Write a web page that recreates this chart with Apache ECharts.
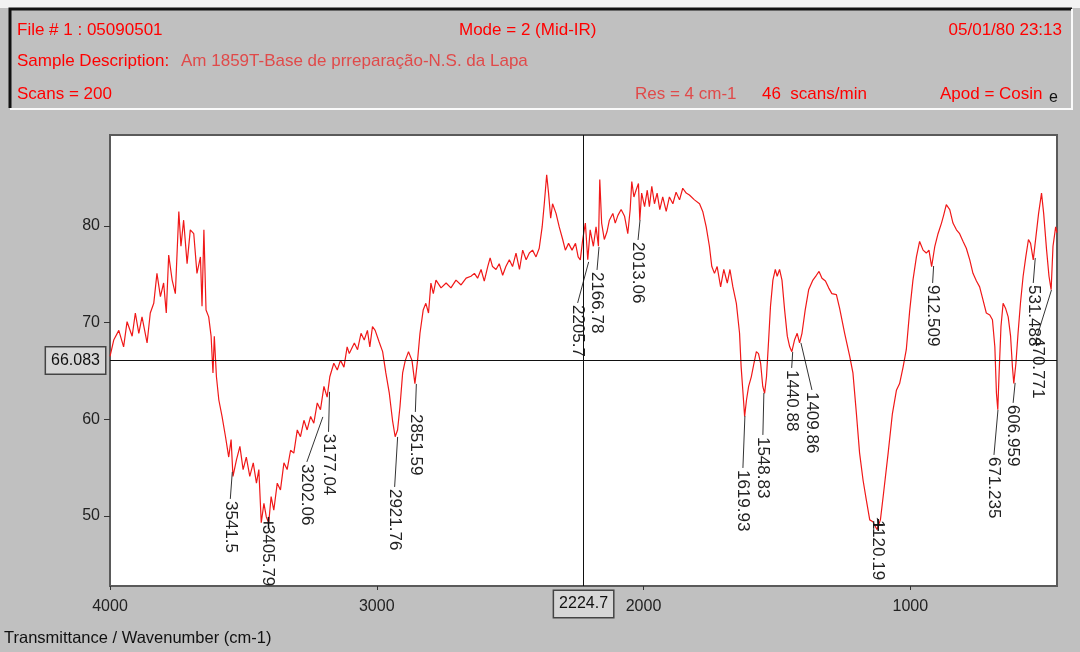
<!DOCTYPE html>
<html>
<head>
<meta charset="utf-8">
<script src="https://cdn.jsdelivr.net/npm/echarts@6/dist/echarts.min.js"></script>
<style>
  html, body { margin: 0; padding: 0; background: #c0c0c0; }
  #chart { width: 1080px; height: 652px; }
</style>
</head>
<body>
<div id="chart"></div>
<script>
// spectrum (cm-1, %T)
const wavenumbers = [
  4000, 3986, 3967, 3949, 3936, 3917, 3905, 3892, 3880, 3861, 3849, 3836, 3824, 3811, 3799, 3789,
  3780, 3767, 3755, 3742, 3734, 3724, 3711, 3699, 3686, 3674, 3661, 3655, 3648, 3640, 3630, 3621,
  3614, 3609, 3601, 3592, 3580, 3567, 3555, 3546, 3539, 3526, 3513, 3501, 3489, 3476, 3463, 3451,
  3442, 3433, 3423, 3414, 3405, 3396, 3386, 3373, 3361, 3348, 3336, 3323, 3311, 3298, 3286, 3273,
  3261, 3248, 3236, 3223, 3211, 3198, 3186, 3176, 3161, 3148, 3136, 3123, 3111, 3103, 3084, 3072,
  3059, 3047, 3035, 3026, 3016, 3006, 2991, 2978, 2966, 2953, 2941, 2931, 2922, 2913, 2903, 2893,
  2881, 2868, 2857, 2847, 2838, 2826, 2816, 2806, 2797, 2788, 2778, 2759, 2740, 2722, 2703, 2684,
  2665, 2647, 2634, 2622, 2609, 2597, 2584, 2575, 2566, 2553, 2541, 2528, 2516, 2503, 2491, 2478,
  2465, 2453, 2440, 2428, 2416, 2403, 2391, 2380, 2372, 2363, 2356, 2348, 2341, 2328, 2316, 2303,
  2293, 2281, 2268, 2255, 2245, 2237, 2228, 2218, 2209, 2200, 2188, 2178, 2169, 2164, 2157, 2147,
  2137, 2128, 2115, 2106, 2096, 2084, 2071, 2059, 2050, 2044, 2036, 2028, 2019, 2014, 2007, 1996,
  1986, 1978, 1969, 1959, 1949, 1939, 1928, 1915, 1903, 1890, 1878, 1865, 1853, 1840, 1828, 1809,
  1790, 1778, 1765, 1753, 1744, 1734, 1724, 1711, 1699, 1686, 1676, 1665, 1652, 1640, 1634, 1627,
  1621, 1614, 1606, 1596, 1586, 1577, 1569, 1561, 1553, 1546, 1539, 1531, 1524, 1515, 1506, 1499,
  1490, 1481, 1471, 1461, 1452, 1444, 1434, 1424, 1415, 1406, 1394, 1381, 1365, 1352, 1342, 1331,
  1318, 1306, 1294, 1277, 1265, 1246, 1227, 1215, 1202, 1190, 1177, 1165, 1152, 1140, 1125, 1112,
  1100, 1083, 1067, 1052, 1040, 1027, 1015, 1002, 990, 977, 965, 952, 940, 930, 920, 908,
  896, 883, 875, 865, 852, 840, 827, 815, 802, 790, 777, 765, 752, 740, 727, 715,
  702, 692, 683, 677, 672, 667, 660, 652, 643, 633, 624, 617, 612, 604, 596, 587,
  577, 567, 557, 549, 539, 529, 519, 508, 500, 489, 480, 472, 465, 455, 450
];
const transmittance = [
  66.5, 68.2, 69.2, 67.5, 70.1, 68.6, 71.0, 68.9, 70.6, 67.9, 71.0, 72.0, 75.1, 72.7, 74.1, 71.0,
  77.0, 74.4, 73.0, 81.5, 77.9, 80.6, 76.1, 79.6, 79.2, 75.1, 76.8, 71.7, 79.6, 71.3, 70.6, 68.6,
  64.8, 68.6, 64.4, 62.0, 60.3, 58.2, 56.1, 57.9, 54.1, 55.8, 57.2, 54.8, 56.1, 54.1, 55.5, 53.4,
  54.8, 49.3, 51.3, 49.9, 49.3, 52.0, 50.6, 53.4, 52.7, 55.5, 54.8, 56.8, 56.5, 58.9, 58.2, 59.9,
  58.9, 60.3, 59.6, 61.7, 61.0, 63.4, 62.3, 64.4, 65.8, 65.1, 66.1, 65.4, 67.5, 66.8, 67.9, 67.2,
  68.9, 68.2, 69.2, 67.5, 69.6, 69.2, 68.0, 67.0, 64.8, 62.7, 59.9, 58.2, 58.9, 61.3, 64.8, 66.1,
  67.0, 66.1, 63.7, 66.1, 68.9, 71.3, 72.0, 71.0, 74.1, 73.0, 74.4, 73.6, 74.1, 73.6, 74.4, 73.9,
  74.6, 74.8, 75.1, 74.6, 75.5, 74.3, 75.8, 76.7, 75.8, 75.5, 76.1, 74.9, 75.8, 76.5, 75.8, 77.2,
  75.5, 77.5, 76.5, 77.2, 77.5, 76.8, 77.7, 79.9, 82.3, 85.3, 83.4, 80.8, 82.3, 81.3, 79.9, 78.6,
  77.5, 78.2, 77.5, 78.2, 76.8, 76.5, 78.6, 80.3, 76.5, 79.6, 77.9, 79.9, 77.9, 84.8, 80.3, 78.6,
  79.4, 80.6, 81.3, 80.3, 81.1, 81.7, 81.0, 79.2, 81.7, 84.6, 83.0, 83.7, 84.4, 80.6, 83.4, 82.0,
  83.7, 82.0, 84.1, 82.3, 83.4, 81.7, 83.0, 81.5, 83.0, 82.3, 83.5, 82.7, 83.9, 83.4, 83.2, 82.7,
  82.3, 81.5, 79.9, 77.9, 75.8, 75.1, 75.8, 73.7, 75.5, 74.1, 75.5, 73.7, 72.0, 68.9, 65.4, 62.7,
  60.3, 62.0, 63.4, 64.4, 65.8, 67.0, 66.8, 65.8, 63.4, 62.7, 64.4, 68.2, 71.7, 74.4, 75.5, 74.8,
  75.5, 74.4, 71.3, 68.6, 67.5, 67.0, 68.2, 68.9, 67.9, 68.9, 71.3, 73.4, 74.4, 74.9, 75.3, 74.6,
  74.3, 73.6, 73.0, 72.9, 71.5, 68.9, 66.5, 64.8, 60.6, 56.5, 53.7, 51.7, 49.6, 49.4, 48.6, 49.6,
  52.4, 56.5, 60.6, 63.0, 63.7, 65.4, 67.2, 71.3, 74.4, 76.8, 78.4, 77.5, 77.2, 77.5, 75.8, 77.9,
  79.2, 80.3, 81.1, 82.2, 81.7, 80.3, 79.6, 79.2, 78.4, 77.7, 76.5, 75.1, 74.3, 73.7, 72.3, 71.0,
  70.8, 70.3, 67.5, 62.7, 61.0, 64.8, 69.6, 72.0, 71.5, 70.6, 68.6, 65.4, 63.7, 65.8, 68.9, 72.0,
  74.8, 76.8, 78.6, 78.2, 76.5, 78.9, 81.3, 83.4, 81.3, 77.5, 74.8, 73.4, 77.9, 79.9, 79.3
];

// picked peaks: wavenumber text and %T where the leader starts
const peakNames = [
  '3541.5', '3405.79', '3202.06', '3177.04', '2921.76', '2851.59', '2205.7', '2166.78', '2013.06',
  '1619.93', '1548.83', '1440.88', '1409.86', '1120.19', '912.509', '671.235', '606.959', '531.488', '470.771'
];
const peakT = [
  54.56, 49.29, 60.25, 62.84, 58.18, 63.66, 76.28, 77.83, 80.62,
  60.35, 62.73, 66.97, 67.90, 49.08, 75.86, 60.97, 63.77, 76.69, 73.38
];
const crossPeaks = ['3405.79', '1120.19'];

const cursorX = 2224.7;
const cursorY = 66.083;

const xTicks = [4000, 3000, 2000, 1000];
const yTicks = [50, 60, 70, 80];

// where each peak label sits, in pixels from its leader start
const labelShift = [
  [-2, 27], [-1, 0], [-16, 45], [-1, 40], [-3, 50], [-1, 28], [-11, 41], [-2, 23], [-2, 20],
  [-2, 52], [-1, 42], [-1, 16], [11, 47], [-1, -7], [-1, 17], [-4, 45], [-2, 20], [-2, 25], [-14, 45]
];

const font = "'Liberation Sans', Arial, sans-serif";
const red = '#ff0000';
const paleRed = '#e04a4a';
const headFont = '17px ' + font;

const chart = echarts.init(document.getElementById('chart'));

const header = [
  { type: 'rect', shape: { x: 0, y: 0, width: 1080, height: 8 }, style: { fill: '#f2f2f2' }, silent: true },
  { type: 'polyline', shape: { points: [[10, 108], [10, 9], [1072, 9]] }, style: { stroke: '#111', lineWidth: 3, fill: null } },
  { type: 'polyline', shape: { points: [[1072, 9], [1072, 109], [10, 109]] }, style: { stroke: '#fafafa', lineWidth: 2, fill: null } },
  { type: 'text', x: 17, y: 30, style: { text: 'File # 1 : 05090501', fill: red, font: headFont, verticalAlign: 'middle' } },
  { type: 'text', x: 459, y: 30, style: { text: 'Mode = 2 (Mid-IR)', fill: red, font: headFont, verticalAlign: 'middle' } },
  { type: 'text', x: 1062, y: 30, style: { text: '05/01/80 23:13', fill: red, font: headFont, align: 'right', verticalAlign: 'middle' } },
  { type: 'text', x: 17, y: 61, style: { text: 'Sample Description:', fill: red, font: headFont, verticalAlign: 'middle' } },
  { type: 'text', x: 181, y: 61, style: { text: 'Am 1859T-Base de prreparação-N.S. da Lapa', fill: paleRed, font: headFont, verticalAlign: 'middle' } },
  { type: 'text', x: 17, y: 94, style: { text: 'Scans = 200', fill: red, font: headFont, verticalAlign: 'middle' } },
  { type: 'text', x: 635, y: 94, style: { text: 'Res = 4 cm-1', fill: paleRed, font: headFont, verticalAlign: 'middle' } },
  { type: 'text', x: 762, y: 94, style: { text: '46  scans/min', fill: red, font: headFont, verticalAlign: 'middle' } },
  { type: 'text', x: 940, y: 94, style: { text: 'Apod = Cosin', fill: red, font: headFont, verticalAlign: 'middle' } },
  { type: 'text', x: 1049, y: 98, style: { text: 'e', fill: '#111', font: '16px ' + font, verticalAlign: 'middle' } },
  { type: 'text', x: 4, y: 638, style: { text: 'Transmittance / Wavenumber (cm-1)', fill: '#111', font: '16.5px ' + font, verticalAlign: 'middle' } }
];

const boxLabel = {
  show: true,
  color: '#111',
  fontSize: 16,
  fontFamily: font,
  backgroundColor: '#d6d6d6',
  borderColor: '#444',
  borderWidth: 1.5,
  padding: [5, 5, 5, 5],
  distance: 5
};

const option = {
  animation: false,
  backgroundColor: '#c0c0c0',
  graphic: header,
  grid: {
    left: 110, top: 135, right: 23, bottom: 66,
    show: true, backgroundColor: '#ffffff', borderColor: '#5a5a5a', borderWidth: 2
  },
  xAxis: {
    type: 'value', inverse: true, min: 450, max: 4000,
    axisLine: { show: false },
    splitLine: { show: false },
    axisTick: { show: true, customValues: xTicks, length: 4, lineStyle: { color: '#333' } },
    axisLabel: { customValues: xTicks, formatter: v => String(v), color: '#222', fontSize: 16, fontFamily: font, margin: 13 }
  },
  yAxis: {
    type: 'value', min: 42.76, max: 89.41,
    axisLine: { show: false },
    splitLine: { show: false },
    axisTick: { show: true, customValues: yTicks, length: 6, lineStyle: { color: '#333' } },
    axisLabel: { customValues: yTicks, formatter: v => String(v), color: '#222', fontSize: 16, fontFamily: font, margin: 10 }
  },
  series: [
    {
      type: 'line',
      data: wavenumbers.map((w, i) => [w, transmittance[i]]),
      showSymbol: false,
      lineStyle: { color: '#f01818', width: 1.2 },
      markLine: {
        silent: true,
        symbol: 'none',
        animation: false,
        lineStyle: { color: '#111', width: 1, type: 'solid' },
        data: [
          { xAxis: cursorX, label: Object.assign({}, boxLabel, { position: 'start', formatter: String(cursorX) }) },
          { yAxis: cursorY, label: Object.assign({}, boxLabel, { position: 'end', formatter: String(cursorY) }) }
        ]
      },
      z: 2
    },
    {
      type: 'custom',
      silent: true,
      z: 3,
      data: peakNames.map((n, i) => [parseFloat(n), peakT[i]]),
      renderItem: function (params, api) {
        const i = params.dataIndex;
        const a = api.coord([api.value(0), api.value(1)]);
        const b = [a[0] + labelShift[i][0], a[1] + labelShift[i][1]];
        const children = [
          { type: 'line', shape: { x1: a[0], y1: a[1], x2: b[0], y2: b[1] }, style: { stroke: '#333', lineWidth: 1 } },
          {
            type: 'text', x: b[0], y: b[1] + 2, rotation: -Math.PI / 2,
            style: { text: peakNames[i], fill: '#222', font: '17px ' + font, align: 'left', verticalAlign: 'middle' }
          }
        ];
        if (crossPeaks.indexOf(peakNames[i]) >= 0) {
          children.push({ type: 'line', shape: { x1: a[0] - 5, y1: a[1], x2: a[0] + 5, y2: a[1] }, style: { stroke: '#111', lineWidth: 1.5 } });
          children.push({ type: 'line', shape: { x1: a[0], y1: a[1] - 6, x2: a[0], y2: a[1] + 6 }, style: { stroke: '#111', lineWidth: 1.5 } });
        }
        return { type: 'group', children: children };
      }
    }
  ]
};

chart.setOption(option);
</script>
</body>
</html>
